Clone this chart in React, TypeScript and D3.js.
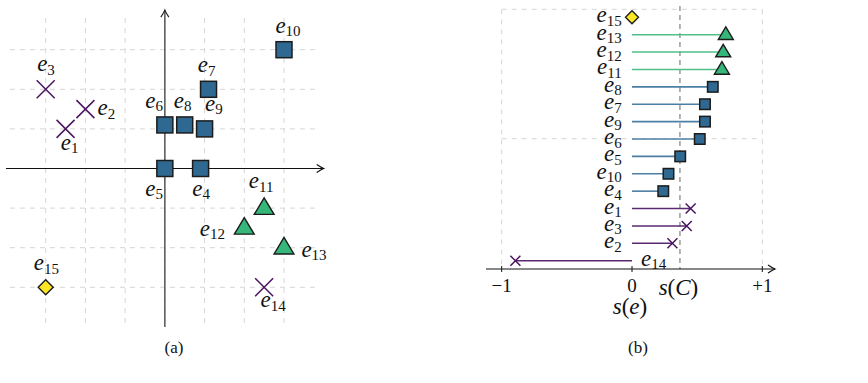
import React from "react";
import * as d3 from "d3";

// ---------- data ----------
const pointIds = [1, 2, 3, 4, 5, 6, 7, 8, 9, 10, 11, 12, 13, 14, 15];
const pointX = [-2.5, -2, -3, 0.9, 0, 0, 1.1, 0.5, 1, 3, 2.5, 2, 3, 2.5, -3];
const pointY = [1, 1.5, 2, 0, 0, 1.1, 2, 1.1, 1, 3, -1, -1.5, -2, -3, -3];
const pointKind = [
  "cross", "cross", "cross", "square", "square", "square", "square", "square",
  "square", "square", "triangle", "triangle", "triangle", "cross", "diamond",
];

const rankOrder = [15, 13, 12, 11, 8, 7, 9, 6, 5, 10, 4, 1, 3, 2, 14];
const silhouette = [0, 0.72, 0.7, 0.69, 0.62, 0.56, 0.56, 0.52, 0.37, 0.28, 0.24, 0.45, 0.42, 0.31, -0.895];
const clusterScore = 0.368;
const sTicks = [-1, 0, 1];
const sTickLabels = ["\u22121", "0", "+1"];
const gridUnits = [-3, -2, -1, 0, 1, 2, 3];

// label placement (style): [dx to label centre, dy to baseline]
const labelOffset: Record<number, [number, number]> = {
  1: [6, 21], 2: [23, 6], 3: [2.3, -18], 4: [2.6, 27], 5: [-8.7, 27],
  6: [-8.7, -17], 7: [0, -17], 8: [0, -17], 9: [11.4, -18], 10: [6, -17],
  11: [-1, -20], 12: [-30, 8], 13: [32, 9], 14: [11, 20], 15: [2.6, -17],
};

const colors: Record<string, string> = {
  cross: "#4a1460",
  square: "#2f6891",
  triangle: "#35b779",
  diamond: "#fde725",
};
const lineColors: Record<string, string> = {
  cross: "#5a2a70",
  square: "#4d7fa5",
  triangle: "#4fc08a",
  diamond: "#fde725",
};

const SERIF = "'Liberation Serif', 'DejaVu Serif', serif";

function Marker({ kind, x, y, s }: { kind: string; x: number; y: number; s: number }) {
  const stroke = "#1c1c1c";
  if (kind === "square") {
    return <rect x={x - s / 2} y={y - s / 2} width={s} height={s} fill={colors.square} stroke={stroke} strokeWidth={1.5} />;
  }
  if (kind === "triangle") {
    const w = s * 1.2;
    const h = s;
    return (
      <path
        d={`M${x},${y - h * 0.62} L${x + w / 2},${y + h * 0.38} L${x - w / 2},${y + h * 0.38} Z`}
        fill={colors.triangle}
        stroke={stroke}
        strokeWidth={1.4}
        strokeLinejoin="miter"
      />
    );
  }
  if (kind === "diamond") {
    const r = s / 2;
    return (
      <path d={`M${x},${y - r} L${x + r},${y} L${x},${y + r} L${x - r},${y} Z`} fill={colors.diamond} stroke={stroke} strokeWidth={1.4} />
    );
  }
  const r = s / 2;
  return (
    <path d={`M${x - r},${y - r} L${x + r},${y + r} M${x - r},${y + r} L${x + r},${y - r}`} stroke={colors.cross} strokeWidth={1.5} fill="none" />
  );
}

function Label({ id, x, y, anchor }: { id: number; x: number; y: number; anchor: "middle" | "end" | "start" }) {
  return (
    <text x={x} y={y} textAnchor={anchor} fontFamily={SERIF} fill="#111">
      <tspan fontStyle="italic" fontSize={23}>e</tspan>
      <tspan fontSize={15} dy={3.5}>{id}</tspan>
    </text>
  );
}

function arrowRight(tx: number, ty: number) {
  return `M${tx - 7},${ty - 4} Q${tx - 2.5},${ty - 1} ${tx},${ty} Q${tx - 2.5},${ty + 1} ${tx - 7},${ty + 4}`;
}
function arrowUp(tx: number, ty: number) {
  return `M${tx - 4},${ty + 7} Q${tx - 1},${ty + 2.5} ${tx},${ty} Q${tx + 1},${ty + 2.5} ${tx + 4},${ty + 7}`;
}

export default function App() {
  // left panel scales
  const xL = d3.scaleLinear().domain([-3, 3]).range([45.7, 284]);
  const yL = d3.scaleLinear().domain([-3, 3]).range([287.3, 49.7]);
  const gx0 = xL(-3.9), gx1 = xL(3.8);
  const gy0 = yL(3.8), gy1 = yL(-3.93);

  // right panel scales
  const xR = d3.scaleLinear().domain([-1, 1]).range([501.7, 762.3]);
  const yR = d3.scalePoint<number>().domain(rankOrder).range([17.3, 260.7]);
  const axisY = 269;

  const grid = "#d6d6d6";

  return (
    <svg width={868} height={383} style={{ position: "absolute", left: 0, top: 0, background: "#fff" }}>
      {/* ---------- panel (a) ---------- */}
      <g>
        {gridUnits.map((u) => (
          <line key={"gv" + u} x1={xL(u)} x2={xL(u)} y1={gy0} y2={gy1} stroke={grid} strokeWidth={1} strokeDasharray="5,5" />
        ))}
        {gridUnits.map((u) => (
          <line key={"gh" + u} x1={gx0} x2={gx1} y1={yL(u)} y2={yL(u)} stroke={grid} strokeWidth={1} strokeDasharray="5,5" />
        ))}
        {/* axes */}
        <line x1={xL(-4.0)} x2={xL(4.0)} y1={yL(0)} y2={yL(0)} stroke="#111" strokeWidth={1.2} />
        <path d={arrowRight(xL(4.0), yL(0))} stroke="#111" strokeWidth={1.2} fill="none" />
        <line x1={xL(0)} x2={xL(0)} y1={yL(-4.0)} y2={yL(4.0)} stroke="#555" strokeWidth={1.5} />
        <path d={arrowUp(xL(0), yL(4.0))} stroke="#222" strokeWidth={1.2} fill="none" />

        {pointIds.map((id, i) => {
          const kind = pointKind[i];
          const size = kind === "square" ? 16 : kind === "triangle" ? 16.5 : kind === "diamond" ? 15 : 18;
          return <Marker key={"m" + id} kind={kind} x={xL(pointX[i])} y={yL(pointY[i])} s={size} />;
        })}
        {pointIds.map((id, i) => {
          const [dx, dy] = labelOffset[id];
          return <Label key={"l" + id} id={id} x={xL(pointX[i]) + dx - 2} y={yL(pointY[i]) + dy} anchor="middle" />;
        })}
        <text x={174} y={353} textAnchor="middle" fontFamily={SERIF} fontSize={17} fill="#111">(a)</text>
      </g>

      {/* ---------- panel (b) ---------- */}
      <g>
        {/* grid */}
        {[-1, 1].map((v) => (
          <line key={"rv" + v} x1={xR(v)} x2={xR(v)} y1={9.3} y2={axisY} stroke={grid} strokeWidth={1} strokeDasharray="5,5" />
        ))}
        {[9.3, 138.7].map((gy) => (
          <line key={"rh" + gy} x1={xR(-1)} x2={xR(1)} y1={gy} y2={gy} stroke={grid} strokeWidth={1} strokeDasharray="5,5" />
        ))}
        {/* s(C) line */}
        <line x1={xR(clusterScore)} x2={xR(clusterScore)} y1={6} y2={axisY} stroke="#8a8a8a" strokeWidth={1.3} strokeDasharray="5,4" />

        {/* lollipops */}
        {rankOrder.map((id, i) => {
          const kind = pointKind[id - 1];
          const y = yR(id) as number;
          const v = silhouette[i];
          return (
            <g key={"r" + id}>
              {v !== 0 && (
                <line x1={xR(0)} x2={xR(v)} y1={y} y2={y} stroke={lineColors[kind]} strokeWidth={1.6} />
              )}
              <Marker
                kind={kind}
                x={xR(v)}
                y={y}
                s={kind === "square" ? 10.5 : kind === "triangle" ? 12.5 : kind === "diamond" ? 13 : 10}
              />
              {v < 0 ? (
                <Label id={id} x={xR(0) + 9} y={y + 5} anchor="start" />
              ) : (
                <Label id={id} x={621.7} y={y + 5} anchor="end" />
              )}
            </g>
          );
        })}

        {/* axis */}
        <line x1={486} x2={775} y1={axisY} y2={axisY} stroke="#111" strokeWidth={1.2} />
        <path d={arrowRight(775, axisY)} stroke="#111" strokeWidth={1.2} fill="none" />
        {sTicks.map((t, i) => (
          <g key={"t" + t}>
            <line x1={xR(t)} x2={xR(t)} y1={axisY - 3} y2={axisY + 3} stroke="#111" strokeWidth={1} />
            <text x={xR(t)} y={292} textAnchor="middle" fontFamily={SERIF} fontSize={19} fill="#111">
              {sTickLabels[i]}
            </text>
          </g>
        ))}
        <text x={xR(clusterScore) - 1.5} y={295} textAnchor="middle" fontFamily={SERIF} fontSize={23} fill="#111">
          <tspan fontStyle="italic">s</tspan>(<tspan fontStyle="italic">C</tspan>)
        </text>
        <text x={630} y={314} textAnchor="middle" fontFamily={SERIF} fontSize={23} fill="#111">
          <tspan fontStyle="italic">s</tspan>(<tspan fontStyle="italic">e</tspan>)
        </text>
        <text x={638} y={353} textAnchor="middle" fontFamily={SERIF} fontSize={17} fill="#111">(b)</text>
      </g>

      <text x={857} y={392} textAnchor="middle" fontFamily={SERIF} fontSize={12} fill="#111">3</text>
    </svg>
  );
}
